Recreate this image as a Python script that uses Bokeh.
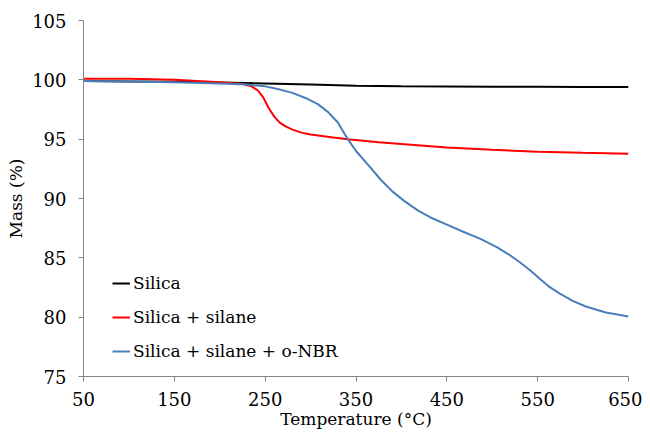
from bokeh.plotting import figure
from bokeh.models import Range1d, FixedTicker, Legend, LegendItem
from bokeh.embed import file_html
from bokeh.resources import INLINE

# Data
temp_silica = [50, 100, 150, 200, 250, 300, 350, 400, 450, 500, 550, 600, 650]
mass_silica = [99.9, 99.87, 99.83, 99.78, 99.7, 99.6, 99.5, 99.46, 99.44, 99.42, 99.41, 99.4, 99.4]

temp_silane = [50, 100, 150, 200, 225, 235, 242, 248, 254, 260, 266, 272, 280, 290, 300, 325, 341,
               375, 400, 450, 500, 550, 600, 650]
mass_silane = [100.1, 100.1, 100.0, 99.8, 99.65, 99.45, 99.1, 98.5, 97.6, 96.9, 96.4, 96.1, 95.8,
               95.55, 95.4, 95.15, 95.0, 94.75, 94.6, 94.3, 94.1, 93.95, 93.85, 93.78]

temp_nbr = [50, 100, 150, 200, 230, 250, 265, 280, 295, 308, 319, 330, 341, 350, 366, 377, 390, 403,
            418, 432, 450, 468, 487, 505, 518, 530, 541, 552, 563, 574, 588, 603, 625, 650]
mass_nbr = [99.9, 99.85, 99.8, 99.7, 99.6, 99.45, 99.2, 98.9, 98.45, 97.95, 97.3, 96.4, 95.0, 94.0,
            92.6, 91.6, 90.6, 89.8, 89.0, 88.4, 87.8, 87.2, 86.6, 85.9, 85.3, 84.65, 84.0, 83.25,
            82.55, 82.0, 81.4, 80.9, 80.4, 80.05]

series_names = ["Silica", "Silica + silane", "Silica + silane + o-NBR"]
series_colors = ["#000000", "#FF0000", "#4A7EBB"]

x_ticks = [50, 150, 250, 350, 450, 550, 650]
y_ticks = [75, 80, 85, 90, 95, 100, 105]

FONT = "DejaVu Serif"
FS = "17px"
TICK_FS = "18px"

p = figure(width=642, height=431, output_backend="svg", toolbar_location=None,
           x_range=Range1d(50, 650), y_range=Range1d(75, 105),
           min_border_left=83, min_border_right=14, min_border_top=20, min_border_bottom=55)
p.outline_line_color = None
p.xgrid.visible = False
p.ygrid.visible = False
p.background_fill_color = "white"
p.border_fill_color = "white"

r1 = p.line(temp_silica, mass_silica, line_color=series_colors[0], line_width=2)
r2 = p.line(temp_silane, mass_silane, line_color=series_colors[1], line_width=2)
r3 = p.line(temp_nbr, mass_nbr, line_color=series_colors[2], line_width=2)

for ax, ticks in ((p.xaxis[0], x_ticks), (p.yaxis[0], y_ticks)):
    ax.ticker = FixedTicker(ticks=ticks)
    ax.axis_line_color = "#868686"
    ax.axis_line_width = 1
    ax.major_tick_line_color = "#868686"
    ax.major_tick_in = 0
    ax.major_tick_out = 5
    ax.minor_tick_line_color = None
    ax.major_label_text_font = FONT
    ax.major_label_text_font_size = TICK_FS
    ax.major_label_text_color = "#000000"
    ax.axis_label_text_font = FONT
    ax.axis_label_text_font_size = FS
    ax.axis_label_text_font_style = "normal"
    ax.axis_label_text_color = "#000000"

p.xaxis[0].axis_label = "Temperature (°C)"
p.yaxis[0].axis_label = "Mass (%)"
p.xaxis[0].major_label_standoff = 10
p.yaxis[0].major_label_standoff = 12
p.xaxis[0].axis_label_standoff = 0
p.yaxis[0].axis_label_standoff = 3

legend = Legend(items=[LegendItem(label=series_names[0], renderers=[r1]),
                       LegendItem(label=series_names[1], renderers=[r2]),
                       LegendItem(label=series_names[2], renderers=[r3])],
                location=(29, 15))
legend.label_text_font = FONT
legend.label_text_font_size = FS
legend.label_text_color = "#000000"
legend.glyph_width = 18
legend.glyph_height = 20
legend.label_height = 20
legend.label_standoff = 3
legend.spacing = 14
legend.padding = 0
legend.margin = 0
legend.border_line_alpha = 0
legend.background_fill_alpha = 0
p.add_layout(legend, "center")

html = file_html(p, INLINE)
open("out.html", "w").write(html)
